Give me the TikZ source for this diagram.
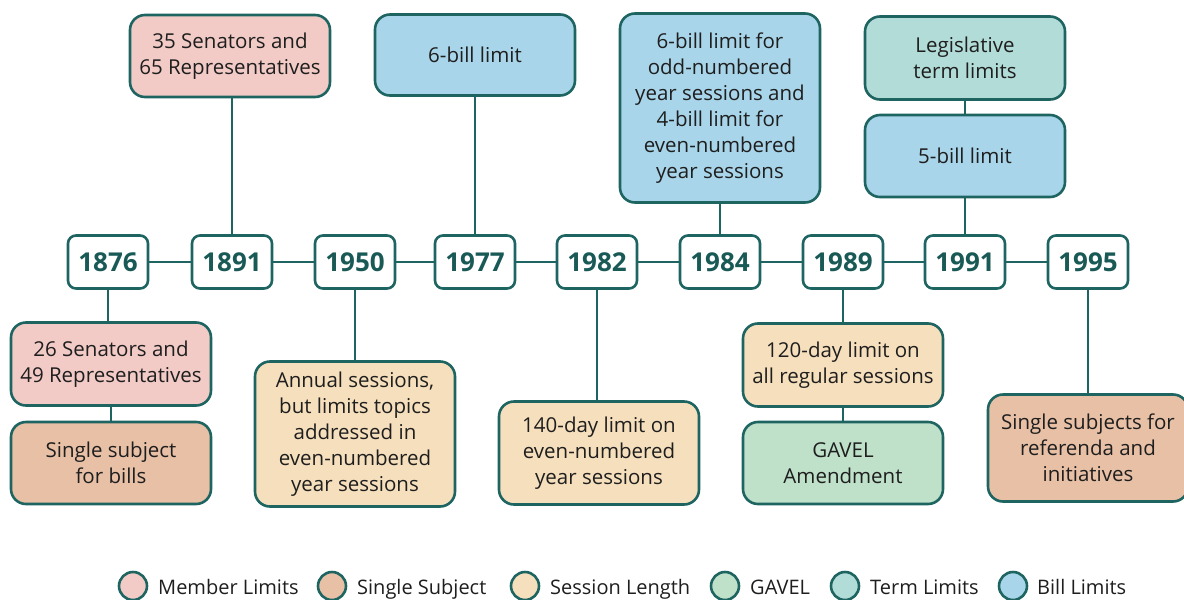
\documentclass[tikz,border=0pt]{standalone}
\usepackage{fontspec}
\setmainfont{Open Sans}
\definecolor{edge}{HTML}{1E6461}
\definecolor{yeartxt}{HTML}{1A5A56}
\definecolor{txt}{HTML}{1E1E1E}
\definecolor{cmember}{HTML}{F2CBC6}
\definecolor{csingle}{HTML}{E8C0A6}
\definecolor{csession}{HTML}{F6DFBC}
\definecolor{cgavel}{HTML}{BFE0C9}
\definecolor{cterm}{HTML}{B2DCD8}
\definecolor{cbill}{HTML}{A8D5E9}
\tikzset{
  yearbox/.style={draw=edge, line width=2.6pt, fill=white, rounded corners=8pt,
    minimum width=80pt, minimum height=53pt, inner sep=0pt,
    font=\fontsize{26}{30}\selectfont\bfseries, text=yeartxt},
  evbox/.style={draw=edge, line width=2.6pt, rounded corners=15pt,
    minimum width=200pt, inner sep=0pt, align=center, text=txt,
    font=\fontsize{20.5}{26}\selectfont},
  conn/.style={draw=edge, line width=2.6pt},
  legdot/.style={circle, draw=edge, line width=2.6pt, minimum size=28pt, inner sep=0pt},
  legtxt/.style={anchor=base west, text=txt, font=\fontsize{20}{24}\selectfont, inner sep=0pt},
}
\begin{document}
\begin{tikzpicture}[x=1pt,y=-1pt]
\useasboundingbox (0,0) rectangle (1184,600);
% year boxes
\foreach \yr/\xx in {1876/108,1891/232,1950/355,1977/475,1982/597,1984/720,1989/843,1991/965,1995/1088}
  \node[yearbox] (y\yr) at (\xx,262) {\yr};
\foreach \a/\b in {1876/1891,1891/1950,1950/1977,1977/1982,1982/1984,1984/1989,1989/1991,1991/1995}
  \draw[conn] (y\a) -- (y\b);
% top boxes
\node[evbox, fill=cmember, minimum height=82pt] (t1891) at (230,56) {35 Senators and\\65 Representatives};
\node[evbox, fill=cbill, minimum height=81pt] (t1977) at (475,55) {6-bill limit};
\node[evbox, fill=cbill, minimum height=189pt] (t1984) at (720,108) {6-bill limit for\\odd-numbered\\year sessions and\\4-bill limit for\\even-numbered\\year sessions};
\node[evbox, fill=cterm, minimum height=83pt] (t1991a) at (965,58) {Legislative\\term limits};
\node[evbox, fill=cbill, minimum height=82pt] (t1991b) at (965,156) {5-bill limit};
% bottom boxes
\node[evbox, fill=cmember, minimum height=83pt] (b1876a) at (111,364) {26 Senators and\\49 Representatives};
\node[evbox, fill=csingle, minimum height=82pt] (b1876b) at (111,463) {Single subject\\for bills};
\node[evbox, fill=csession, minimum height=145pt] (b1950) at (355,434) {Annual sessions,\\but limits topics\\addressed in\\even-numbered\\year sessions};
\node[evbox, fill=csession, minimum height=103pt] (b1982) at (599,453) {140-day limit on\\even-numbered\\year sessions};
\node[evbox, fill=csession, minimum height=83pt] (b1989a) at (843,365) {120-day limit on\\all regular sessions};
\node[evbox, fill=cgavel, minimum height=82pt] (b1989b) at (843,463) {GAVEL\\Amendment};
\node[evbox, fill=csingle, minimum height=107pt] (b1995) at (1088,448) {Single subjects for\\referenda and\\initiatives};
% connectors
\draw[conn] (y1891.north) -- (t1891.south -| y1891.north);
\draw[conn] (y1977.north) -- (t1977.south -| y1977.north);
\draw[conn] (y1984.north) -- (t1984.south -| y1984.north);
\draw[conn] (y1991.north) -- (t1991b.south -| y1991.north);
\draw[conn] (t1991b) -- (t1991a);
\draw[conn] (y1876.south) -- (b1876a.north -| y1876.south);
\draw[conn] (b1876a) -- (b1876b);
\draw[conn] (y1950.south) -- (b1950.north -| y1950.south);
\draw[conn] (y1982.south) -- (b1982.north -| y1982.south);
\draw[conn] (y1989.south) -- (b1989a.north -| y1989.south);
\draw[conn] (b1989a) -- (b1989b);
\draw[conn] (y1995.south) -- (b1995.north -| y1995.south);
% legend
\node[legdot, fill=cmember] (l1) at (133,586) {};
\node[legtxt] (l1t) at (158,594) {Member Limits};
\node[legdot, fill=csingle] (l2) at (332,586) {};
\node[legtxt] (l2t) at (357,594) {Single Subject};
\node[legdot, fill=csession] (l3) at (525,586) {};
\node[legtxt] (l3t) at (550,594) {Session Length};
\node[legdot, fill=cgavel] (l4) at (725,586) {};
\node[legtxt] (l4t) at (750,594) {GAVEL};
\node[legdot, fill=cterm] (l5) at (845,586) {};
\node[legtxt] (l5t) at (870,594) {Term Limits};
\node[legdot, fill=cbill] (l6) at (1013,586) {};
\node[legtxt] (l6t) at (1037,594) {Bill Limits};
\end{tikzpicture}
\end{document}
